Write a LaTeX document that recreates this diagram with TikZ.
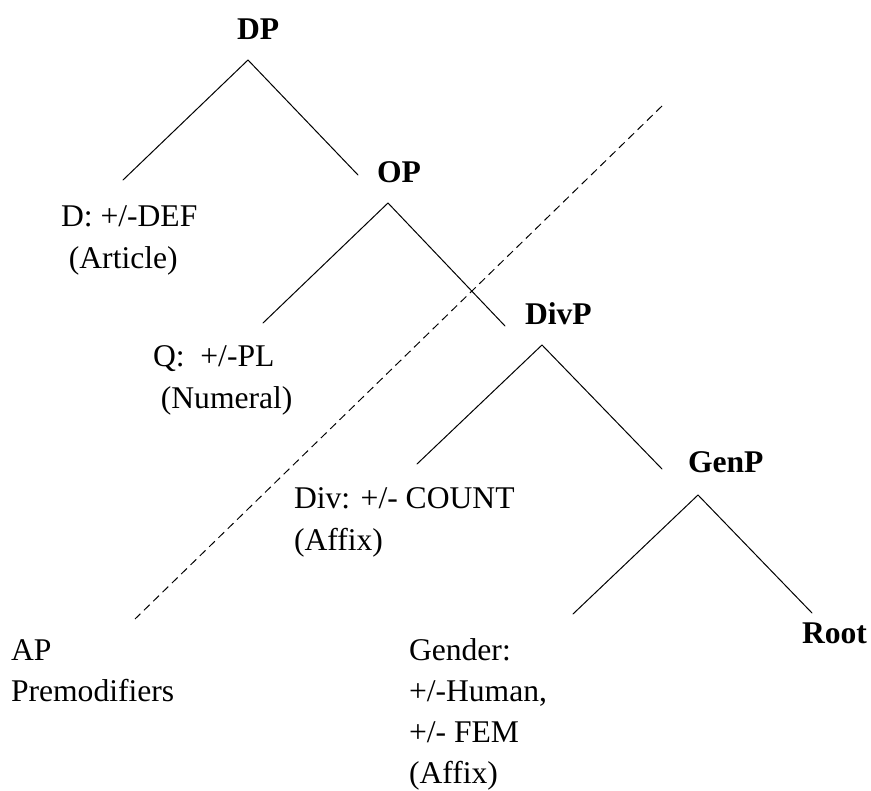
\documentclass[tikz,border=0pt]{standalone}
\usepackage{fontspec}
\setmainfont{Liberation Serif}
\newcommand{\lines}[1]{\begin{tabular}[t]{@{}l@{}}#1\end{tabular}}
\begin{document}
\begin{tikzpicture}[x=1pt,y=-1pt,
  lbl/.style={anchor=base west, inner sep=0pt, outer sep=0pt,
              font=\fontsize{31.6}{41.3}\selectfont},
  cat/.style={lbl, font=\fontsize{31.6}{41.3}\selectfont\bfseries},
  branch/.style={line width=1pt, line cap=round},
  boundary/.style={line width=1pt, dash pattern=on 8pt off 5pt}]
\useasboundingbox (0,0) rectangle (871,791);

% phrase labels
\node[cat] (dp)   at (237,40)  {DP};
\node[cat] (op)   at (377,183) {OP};
\node[cat] (divp) at (525,325) {DivP};
\node[cat] (genp) at (688,473) {GenP};
\node[cat] (root) at (802,644) {Root};

% heads and features
\node[lbl] (d)   at (61,227)  {\lines{D: +/-DEF\\\ (Article)}};
\node[lbl] (q)   at (153,367) {\lines{Q:\ \ +/-PL\\\ (Numeral)}};
\node[lbl] (div) at (294,509) {\lines{Div: +/- COUNT\\(Affix)}};
\node[lbl] (gen) at (409,660) {\lines{Gender:\\+/-Human,\\+/- FEM\\(Affix)}};
\node[lbl] (ap)  at (11,660)  {\lines{AP\\Premodifiers}};

% branching points and branch ends
\coordinate (dp-top)   at (248,60);
\coordinate (d-end)    at (123,180);
\coordinate (op-end)   at (358,175);
\coordinate (op-top)   at (388,203);
\coordinate (q-end)    at (263,323);
\coordinate (divp-end) at (505,326);
\coordinate (divp-top) at (542,345);
\coordinate (div-end)  at (417,464);
\coordinate (genp-end) at (662,469);
\coordinate (genp-top) at (698,495);
\coordinate (gen-end)  at (573,614);
\coordinate (root-end) at (812,613);

% ends of the premodifier boundary
\coordinate (bound-top) at (662,106);
\coordinate (bound-ap)  at (135,619);

\draw[branch] (d-end) -- (dp-top) -- (op-end);
\draw[branch] (q-end) -- (op-top) -- (divp-end);
\draw[branch] (div-end) -- (divp-top) -- (genp-end);
\draw[branch] (gen-end) -- (genp-top) -- (root-end);
\draw[boundary] (bound-top) -- (bound-ap);
\end{tikzpicture}
\end{document}
